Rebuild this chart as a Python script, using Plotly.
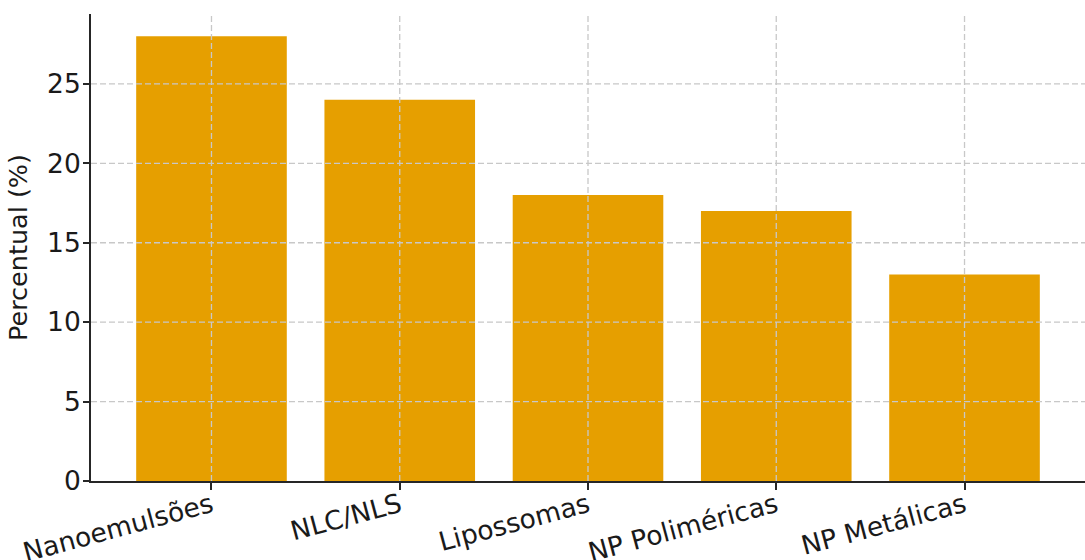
import plotly.graph_objects as go

categories = ["Nanoemulsões", "NLC/NLS", "Lipossomas", "NP Poliméricas", "NP Metálicas"]
values = [28, 24, 18, 17, 13]
y_ticks = [0, 5, 10, 15, 20, 25]

FONT = "DejaVu Sans"
TXT = "#1a1a1a"
GRID = "#c8c8c8"

fig = go.Figure()
fig.add_trace(go.Bar(
    x=categories, y=values, width=0.8,
    marker=dict(color="#E69F00", line=dict(width=0)),
    hoverinfo="x+y",
))

shapes = []
for yv in y_ticks[1:]:
    shapes.append(dict(type="line", xref="paper", yref="y", x0=0, x1=1, y0=yv, y1=yv,
                       line=dict(color=GRID, width=1.3, dash="6px,3px"), layer="above"))
for c in categories:
    shapes.append(dict(type="line", xref="x", yref="paper", x0=c, x1=c, y0=0, y1=1,
                       line=dict(color=GRID, width=1.3, dash="6px,3px"), layer="above"))

fig.update_layout(
    width=1085, height=560,
    margin=dict(l=91, r=0, t=14, b=79),
    paper_bgcolor="white", plot_bgcolor="white",
    font=dict(family=FONT, size=26, color=TXT),
    showlegend=False,
    bargap=0.2,
    shapes=shapes,
    xaxis=dict(
        range=[-0.64, 4.64], showgrid=False, zeroline=False, automargin=False,
        showline=True, linecolor="#262626", linewidth=1.8,
        ticks="outside", ticklen=7, tickwidth=1.6, tickcolor="#262626",
        tickangle=-15, tickfont=dict(family=FONT, size=26.5, color=TXT),
        ticklabelstandoff=-10,
        layer="above traces",
    ),
    yaxis=dict(
        range=[0, 29.4], tickvals=y_ticks, showgrid=False, zeroline=False, automargin=False,
        showline=True, linecolor="#262626", linewidth=1.8,
        ticks="outside", ticklen=6, tickwidth=1.6, tickcolor="#262626",
        tickfont=dict(family=FONT, size=26.5, color=TXT),
        ticklabelstandoff=-3,
        title=dict(text="Percentual (%)", font=dict(family=FONT, size=25.5, color=TXT), standoff=12),
        layer="above traces",
    ),
)

fig.write_html(
    "out.html",
    config={"responsive": False, "displayModeBar": False},
    post_script="document.body.style.margin='0';document.body.style.overflow='hidden';",
)
